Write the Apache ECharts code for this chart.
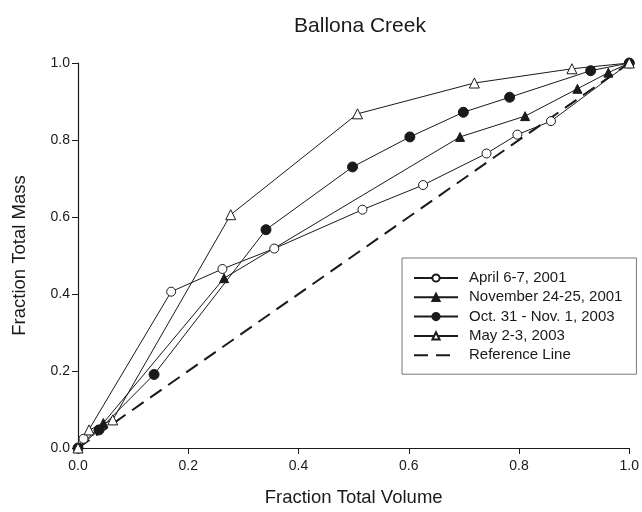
<!DOCTYPE html>
<html>
<head>
<meta charset="utf-8">
<script src="https://cdn.jsdelivr.net/npm/echarts@6/dist/echarts.min.js"></script>
<style>
html,body{margin:0;padding:0;background:#fff;}
#chart{width:642px;height:512px;}
</style>
</head>
<body>
<div id="chart"></div>
<script>
var titleText = "Ballona Creek";
var xAxisTitle = "Fraction Total Volume";
var yAxisTitle = "Fraction Total Mass";
var seriesNames = ["April 6-7, 2001", "November 24-25, 2001", "Oct. 31 - Nov. 1, 2003", "May 2-3, 2003", "Reference Line"];

var aprilX = [0, 0.01, 0.169, 0.262, 0.356, 0.516, 0.626, 0.741, 0.797, 0.858, 1.0];
var aprilY = [0, 0.024, 0.406, 0.465, 0.518, 0.619, 0.683, 0.765, 0.814, 0.849, 1.0];

var novX = [0, 0.046, 0.265, 0.693, 0.811, 0.906, 0.962, 1.0];
var novY = [0, 0.065, 0.441, 0.808, 0.862, 0.933, 0.975, 1.0];

var octX = [0, 0.038, 0.138, 0.341, 0.498, 0.602, 0.699, 0.783, 0.930, 1.0];
var octY = [0, 0.047, 0.191, 0.567, 0.730, 0.808, 0.872, 0.911, 0.980, 1.0];

var mayX = [0, 0.020, 0.063, 0.277, 0.507, 0.719, 0.896, 1.0];
var mayY = [0, 0.047, 0.073, 0.606, 0.868, 0.948, 0.985, 1.0];

var refX = [0, 1];
var refY = [0, 1];

var xTicks = [0, 0.2, 0.4, 0.6, 0.8, 1.0];
var yTicks = [0, 0.2, 0.4, 0.6, 0.8, 1.0];

function pairs(xs, ys) { return xs.map(function (x, i) { return [x, ys[i]]; }); }

var fontFam = "'Liberation Sans', Arial, sans-serif";
var ink = '#1a1a1a';

function lineSeries(name, xs, ys, symbol, filled, size) {
  return {
    name: name, type: 'line', data: pairs(xs, ys),
    symbol: symbol, symbolSize: size, showSymbol: true,
    lineStyle: { color: ink, width: 1 },
    itemStyle: { color: filled ? ink : '#fff', borderColor: ink, borderWidth: 1 },
    emphasis: { disabled: true },
    animation: false, z: 3
  };
}

var chart = echarts.init(document.getElementById('chart'), null, { renderer: 'canvas' });
chart.setOption({
  backgroundColor: '#fff',
  animation: false,
  title: {
    text: titleText, left: 355, top: 11, textAlign: 'center',
    textStyle: { fontFamily: fontFam, fontSize: 21, fontWeight: 'normal', color: ink }
  },
  grid: { left: 78, right: 11, top: 63, bottom: 61 },
  xAxis: {
    type: 'value', min: 0, max: 1, interval: 0.2,
    name: xAxisTitle, nameLocation: 'middle', nameGap: 40,
    nameTextStyle: { fontFamily: fontFam, fontSize: 18.5, color: ink },
    axisLine: { lineStyle: { color: ink, width: 1.2 } },
    axisTick: { show: true, inside: false, length: 6, lineStyle: { color: ink } },
    axisLabel: { fontFamily: fontFam, fontSize: 14, color: ink, margin: 11,
      formatter: function (v) { return xTicks.indexOf(Math.round(v * 10) / 10) >= 0 ? v.toFixed(1) : ''; } },
    splitLine: { show: false }
  },
  yAxis: {
    type: 'value', min: 0, max: 1, interval: 0.2,
    name: yAxisTitle, nameLocation: 'middle', nameGap: 49, nameRotate: 90,
    nameTextStyle: { fontFamily: fontFam, fontSize: 18.5, color: ink },
    axisLine: { show: true, lineStyle: { color: ink, width: 1.2 } },
    axisTick: { show: true, inside: false, length: 6, lineStyle: { color: ink } },
    axisLabel: { fontFamily: fontFam, fontSize: 14, color: ink, margin: 8,
      formatter: function (v) { return yTicks.indexOf(Math.round(v * 10) / 10) >= 0 ? v.toFixed(1) : ''; } },
    splitLine: { show: false }
  },
  legend: {
    orient: 'vertical', left: 402, top: 258,
    data: seriesNames,
    itemWidth: 44, itemHeight: 9, itemGap: 4.3,
    padding: [12.5, 14, 11.5, 11],
    borderColor: '#777', borderWidth: 1, backgroundColor: '#fff',
    textStyle: { fontFamily: fontFam, fontSize: 15, lineHeight: 15, color: ink, padding: [0, 0, 0, 6] },
    selectedMode: false
  },
  series: [
    lineSeries(seriesNames[0], aprilX, aprilY, 'circle', false, 9),
    lineSeries(seriesNames[1], novX, novY, 'triangle', true, 9),
    lineSeries(seriesNames[2], octX, octY, 'circle', true, 10),
    lineSeries(seriesNames[3], mayX, mayY, 'triangle', false, 10),
    {
      name: seriesNames[4], type: 'line', data: pairs(refX, refY),
      symbol: 'none', showSymbol: false,
      lineStyle: { color: ink, width: 2, type: [14, 8] },
      itemStyle: { color: 'rgba(0,0,0,0)', borderColor: 'rgba(0,0,0,0)' },
      emphasis: { disabled: true }, animation: false, z: 2
    }
  ]
});
</script>
</body>
</html>
